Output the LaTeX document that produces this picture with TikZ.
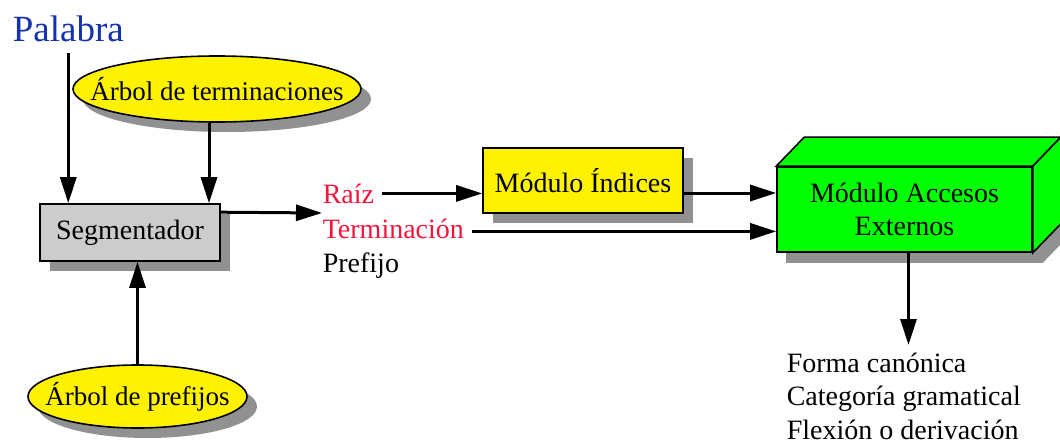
\documentclass[tikz,border=0pt]{standalone}
\usepackage{fontspec}
\setmainfont{Liberation Serif}
\usetikzlibrary{arrows.meta,shapes.geometric,shadows,backgrounds}
\definecolor{palblue}{RGB}{20,50,170}
\definecolor{partred}{RGB}{245,20,60}
\definecolor{shadowgray}{RGB}{145,145,145}
\newcommand{\treelabel}[1]{\makebox[0pt][c]{#1}}

\begin{document}
\begin{tikzpicture}[
	x=0.5pt, y=-0.5pt,
	font=\fontsize{14}{16.8}\selectfont,
	line width=0.8pt,
	arr/.style={line width=1.5pt,-{Triangle[length=13pt,width=8pt]}},
	shad/.style={drop shadow={shadow xshift=5pt,shadow yshift=-5pt,fill=shadowgray,opacity=1}},
	tree/.style={ellipse,draw,fill=yellow,inner sep=0pt,shad,font=\fontsize{13.5}{16}\selectfont},
	box/.style={rectangle,draw,inner sep=0pt,shad},
	part/.style={inner xsep=3.5pt,inner ysep=0pt,anchor=base west},
	]
\useasboundingbox (0,0) rectangle (1060,444);

\node [anchor=base west,inner sep=5pt,text=palblue,font=\fontsize{18.5}{22}\selectfont] (palabra) at (2,42) {Palabra};
\node [tree,minimum width=144pt,minimum height=33pt] (terms) at (217,89) {\treelabel{Árbol de terminaciones}};
\node [box,fill=black!20,minimum width=90pt,minimum height=28.5pt] (seg) at (130,232.5) {Segmentador};
\node [tree,minimum width=109.5pt,minimum height=31.5pt] (prefs) at (137.5,396.5) {\treelabel{Árbol de prefijos}};

% salidas del segmentador
\node [part,text=partred] (raiz) at (315,203) {Raíz};
\node [part,text=partred] (term) at (315,238) {Terminación};
\node [part] (pref) at (315,272) {Prefijo};
\coordinate (split) at (322,213);

\node [box,fill=yellow,minimum width=100pt,minimum height=32.5pt] (indices) at (583,180.5) {Módulo Índices};

% caja 3D
\node [rectangle,draw,fill=green,align=center,minimum width=127.5pt,minimum height=42.5pt] (ext) at (904.5,209.5) {Módulo Accesos\\Externos};
\begin{scope}[on background layer]
	\fill [shadowgray] ([shift={(5pt,-5pt)}]ext.south west) -- ([shift={(5pt,-5pt)}]ext.south east)
		-- ([shift={(19pt,9.5pt)}]ext.south east) -- ([shift={(19pt,9.5pt)}]ext.north east)
		-- ([shift={(19pt,9.5pt)}]ext.north west) -- ([shift={(5pt,-5pt)}]ext.north west) -- cycle;
\end{scope}
\filldraw [fill=green] (ext.north west) -- ++(14pt,14.5pt) -- ([shift={(14pt,14.5pt)}]ext.north east) -- (ext.north east) -- cycle;
\filldraw [fill=green] (ext.north east) -- ++(14pt,14.5pt) -- ([shift={(14pt,14.5pt)}]ext.south east) -- (ext.south east) -- cycle;

\node [anchor=north west,align=left,inner sep=0pt] (outs) at (786,352) {Forma canónica\\Categoría gramatical\\Flexión o derivación};

\draw [arr] (palabra.south) -- (palabra.south |- seg.north);
\draw [arr] ([xshift=-4pt]terms.south) -- ([xshift=-4pt]terms.south |- seg.north);
\draw [arr] (prefs.north) -- (prefs.north |- seg.south);
\draw [arr] ([yshift=-4.5pt]seg.north east) -- (split);
\draw [arr] (raiz.east) -- (raiz.east -| indices.west);
\draw [arr] ([yshift=-6.25pt]indices.east) -- ([yshift=-6.25pt]indices.east -| ext.west);
\draw [arr] ([yshift=-1.5pt]term.east) -- ([yshift=-1.5pt]term.east -| ext.west);
\draw [arr,shorten >=3.5pt] ([xshift=2pt]ext.south) -- ([xshift=2pt]ext.south |- outs.north);
\end{tikzpicture}
\end{document}
